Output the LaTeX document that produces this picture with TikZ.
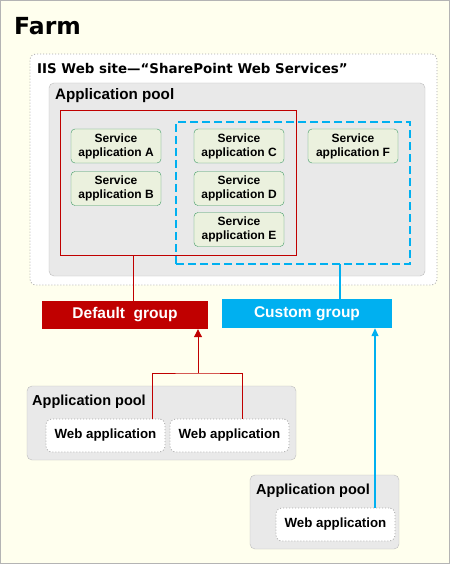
\documentclass[tikz,border=0pt]{standalone}
\usepackage{fontspec}
\setmainfont{Liberation Sans}
\newfontfamily\verdfont{DejaVu Sans}
\usetikzlibrary{arrows.meta}
\definecolor{farmbg}{HTML}{FFFFEE}
\definecolor{farmframe}{HTML}{B4B4B4}
\definecolor{poolfill}{HTML}{E9E9E9}
\definecolor{pooldraw}{HTML}{BDBDBD}
\definecolor{svcfill}{HTML}{EBF1DE}
\definecolor{svcdraw}{HTML}{3E9A64}
\definecolor{defred}{HTML}{C00000}
\definecolor{custblue}{HTML}{00B0F0}
\definecolor{dotgray}{HTML}{A8A8A8}
\tikzset{
  box/.style={anchor=north west, inner sep=0pt, outer sep=0pt},
  poolbox/.style={box, draw=pooldraw, fill=poolfill, rounded corners=5pt},
  dotbox/.style={box, draw=dotgray, fill=white, line width=0.8pt,
    dash pattern=on 1pt off 2pt, rounded corners=6pt},
  svcbox/.style={draw=svcdraw, fill=svcfill, rounded corners=4pt, minimum width=90pt,
    minimum height=34pt, align=center, inner sep=0pt,
    font=\fontsize{12}{14}\selectfont\bfseries},
  webbox/.style={dotbox, minimum width=119pt, minimum height=33pt,
    font=\fontsize{13.3}{15}\selectfont\bfseries},
  grpbox/.style={fill=#1, text=white, inner sep=0pt,
    font=\fontsize{15.5}{17}\selectfont\bfseries},
  poollabel/.style={anchor=west, inner sep=0pt, font=\fontsize{14.5}{16}\selectfont\bfseries},
  redline/.style={draw=defred, line width=1pt},
  blueline/.style={draw=custblue, line width=1.3pt}
}
\begin{document}
\begin{tikzpicture}[x=1pt,y=-1pt]
  \useasboundingbox (0,0) rectangle (450,564);
  \draw[draw=farmframe, fill=farmbg] (0.5,0.5) rectangle (449.5,563.5);
  \node[anchor=west, inner sep=0pt, font=\verdfont\fontsize{23.5}{26}\selectfont\bfseries] (farm) at (14,26) {Farm};

  % IIS web site
  \node[dotbox, minimum width=407pt, minimum height=231pt] (iis) at (30,54) {};
  \node[anchor=west, inner sep=0pt, font=\verdfont\fontsize{13.4}{15}\selectfont\bfseries] (iislabel) at (37,69) {IIS Web site—“SharePoint Web Services”};
  \node[poolbox, minimum width=376pt, minimum height=193pt] (pool1) at (49,83) {};
  \node[poollabel, font=\fontsize{15.2}{17}\selectfont\bfseries] (pool1label) at (55,96) {Application pool};

  % groups of service applications
  \node[box, draw=defred, line width=1pt, minimum width=236pt, minimum height=144pt] (defrect) at (60,111) {};
  \node[box, draw=custblue, line width=1.6pt, dash pattern=on 8pt off 4pt, minimum width=234pt, minimum height=142pt] (custrect) at (176,122) {};

  \node[svcbox] (svcA) at (116,146) {Service\\application A};
  \node[svcbox] (svcB) at (116,188.5) {Service\\application B};
  \node[svcbox] (svcC) at (239,146) {Service\\application C};
  \node[svcbox] (svcD) at (239,188.5) {Service\\application D};
  \node[svcbox] (svcE) at (239,229.5) {Service\\application E};
  \node[svcbox] (svcF) at (353,146) {Service\\application F};

  % group labels
  \node[grpbox=defred, minimum width=166pt, minimum height=28pt] (defgrp) at (125,315) {Default\ \ group};
  \node[grpbox=custblue, minimum width=170pt, minimum height=29pt] (custgrp) at (307,313.5) {Custom group};

  \draw[redline] ([xshift=73pt]defrect.south west) -- ([xshift=73pt]defrect.south west |- defgrp.north);
  \draw[blueline] ([xshift=164pt]custrect.south west) -- ([xshift=164pt]custrect.south west |- custgrp.north);

  % web application pools
  \node[poolbox, minimum width=269pt, minimum height=74pt] (pool2) at (27,386) {};
  \node[poollabel] (pool2label) at (32,402) {Application pool};
  \node[webbox] (web1) at (46,419) {Web application};
  \node[webbox] (web2) at (170,419) {Web application};

  \node[poolbox, minimum width=149pt, minimum height=74pt] (pool3) at (250,475) {};
  \node[poollabel] (pool3label) at (256,491) {Application pool};
  \node[webbox] (web3) at (276,508) {Web application};

  % connectors
  \coordinate (join) at (198,373);
  \draw[redline] ([xshift=-13pt]web1.north east) |- (join) -| ([xshift=72pt]web2.north west);
  \draw[redline, -{Triangle[length=8pt,width=8pt]}] (join) -- (join |- defgrp.south);
  \draw[blueline, -{Triangle[length=8pt,width=7pt]}] ([xshift=-20pt]web3.north east) -- ([xshift=-20pt]web3.north east |- custgrp.south);
\end{tikzpicture}
\end{document}
